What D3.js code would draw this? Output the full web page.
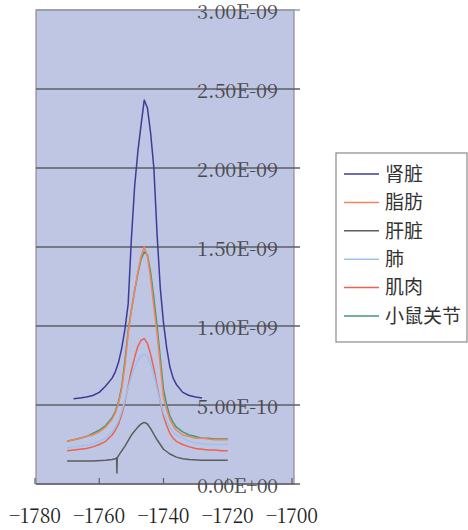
<!DOCTYPE html>
<html>
<head>
<meta charset="utf-8">
<script src="https://cdn.jsdelivr.net/npm/d3@7"></script>
<style>
  body { margin: 0; background: #fff; }
  svg { display: block; }
</style>
</head>
<body>
<svg width="468" height="530"></svg>
<script>
// values are in units of 1e-9
const xs = [-1770, -1768, -1766, -1764, -1762, -1760, -1758, -1756, -1755, -1754, -1753, -1752,
  -1751, -1750, -1749, -1748, -1747, -1746, -1745, -1744, -1743, -1742, -1741, -1740,
  -1739, -1738, -1737, -1736, -1734, -1732, -1730, -1728, -1726, -1724, -1722, -1720];

const kidney = [null, 0.54, 0.545, 0.55, 0.56, 0.58, 0.62, 0.67, 0.71, 0.77, 0.86, 0.98,
  1.14, 1.55, 1.88, 2.10, 2.27, 2.43, 2.38, 2.22, 2.00, 1.58, 1.24, 1.02,
  0.86, 0.74, 0.67, 0.63, 0.58, 0.56, 0.55, 0.545, null, null, null, null];
const fat = [0.27, 0.28, 0.29, 0.30, 0.31, 0.33, 0.36, 0.41, 0.45, 0.51, 0.60, 0.75,
  0.95, 1.10, 1.22, 1.34, 1.44, 1.50, 1.44, 1.30, 1.12, 0.95, 0.75, 0.55,
  0.47, 0.41, 0.37, 0.34, 0.31, 0.30, 0.29, 0.29, 0.285, 0.28, 0.28, 0.28];
const lung = [0.23, 0.235, 0.24, 0.245, 0.255, 0.27, 0.29, 0.33, 0.36, 0.40, 0.46, 0.53,
  0.61, 0.68, 0.74, 0.78, 0.81, 0.82, 0.81, 0.76, 0.69, 0.60, 0.52, 0.45,
  0.40, 0.36, 0.33, 0.31, 0.29, 0.27, 0.26, 0.255, 0.25, 0.25, 0.25, 0.25];
const muscle = [0.21, 0.215, 0.22, 0.225, 0.235, 0.25, 0.27, 0.31, 0.34, 0.38, 0.44, 0.52,
  0.62, 0.72, 0.80, 0.87, 0.91, 0.92, 0.89, 0.82, 0.73, 0.62, 0.52, 0.43,
  0.37, 0.32, 0.29, 0.27, 0.25, 0.235, 0.225, 0.22, 0.215, 0.215, 0.21, 0.21];
const joint = [0.27, 0.28, 0.29, 0.30, 0.32, 0.34, 0.37, 0.42, 0.46, 0.52, 0.62, 0.78,
  0.97, 1.10, 1.22, 1.33, 1.42, 1.47, 1.45, 1.34, 1.18, 1.00, 0.80, 0.60,
  0.50, 0.43, 0.39, 0.36, 0.33, 0.31, 0.30, 0.29, 0.29, 0.285, 0.285, 0.285];

// liver has its own sampling because of the dip near -1754.5
const liverX = [-1770, -1766, -1762, -1758, -1756, -1755, -1754.6, -1754.5, -1754.4, -1754, -1752, -1750,
  -1748, -1747, -1746, -1745, -1744, -1742, -1740, -1738, -1736, -1734, -1732, -1728, -1724, -1720];
const liver = [0.145, 0.145, 0.145, 0.15, 0.155, 0.16, 0.165, 0.07, 0.165, 0.18, 0.24, 0.31,
  0.36, 0.38, 0.39, 0.38, 0.35, 0.28, 0.22, 0.19, 0.17, 0.16, 0.155, 0.15, 0.15, 0.15];

const names = ['肾脏', '脂肪', '肝脏', '肺', '肌肉', '小鼠关节'];
const colors = ['#3c3c96', '#f2835c', '#5c5c5c', '#9cc2ee', '#f0604c', '#3f9c72'];
const yTicks = [0, 0.5e-9, 1e-9, 1.5e-9, 2e-9, 2.5e-9, 3e-9];
const yTickLabels = ['0.00E+00', '5.00E-10', '1.00E-09', '1.50E-09', '2.00E-09', '2.50E-09', '3.00E-09'];
const xTicks = [-1780, -1760, -1740, -1720, -1700];

const svg = d3.select('svg');
const plot = { left: 36, right: 294, top: 10, bottom: 484 };
const serif = "'Noto Serif CJK SC', 'Liberation Serif', serif";

const x = d3.scaleLinear().domain([-1780, -1700]).range([35, 292]);
const y = d3.scaleLinear().domain([0, 3e-9]).range([plot.bottom, plot.top]);

// plot background
svg.append('rect')
  .attr('x', plot.left).attr('y', plot.top)
  .attr('width', plot.right - plot.left).attr('height', plot.bottom - plot.top)
  .attr('fill', '#bec6e4')
  .attr('stroke', '#8c8c9a').attr('stroke-width', 1.2);

// gridlines, running a little past the right border
svg.append('g').selectAll('line')
  .data(yTicks)
  .join('line')
  .attr('x1', plot.left).attr('x2', plot.right + 6)
  .attr('y1', d => y(d)).attr('y2', d => y(d))
  .attr('stroke', d => d === 3e-9 ? '#9a9aa6' : '#5e5e66')
  .attr('stroke-width', 1.4);

// x tick marks inside the bottom edge
svg.append('g').selectAll('line')
  .data(xTicks)
  .join('line')
  .attr('x1', d => x(d)).attr('x2', d => x(d))
  .attr('y1', plot.bottom).attr('y2', plot.bottom - 6)
  .attr('stroke', '#5e5e66').attr('stroke-width', 1.2);

// series
const line = d3.line()
  .defined(d => d[1] != null)
  .x(d => x(d[0]))
  .y(d => y(d[1] * 1e-9));

const series = [
  { vals: kidney, xv: xs, c: colors[0] },
  { vals: liver, xv: liverX, c: colors[2] },
  { vals: muscle, xv: xs, c: colors[4] },
  { vals: lung, xv: xs, c: colors[3] },
  { vals: joint, xv: xs, c: colors[5] },
  { vals: fat, xv: xs, c: colors[1] }
];
series.forEach(s => {
  svg.append('path')
    .datum(s.xv.map((v, i) => [v, s.vals[i]]))
    .attr('d', line)
    .attr('fill', 'none')
    .attr('stroke', s.c)
    .attr('stroke-width', 1.5)
    .attr('stroke-linejoin', 'round');
});

// y tick labels sit inside the plot, on top of the gridlines
svg.append('g').selectAll('text')
  .data(yTicks)
  .join('text')
  .attr('x', 278)
  .attr('y', d => y(d) + 9)
  .attr('text-anchor', 'end')
  .style('font-family', serif)
  .style('font-size', '20px')
  .attr('fill', '#4a4a4a')
  .attr('textLength', 81)
  .attr('lengthAdjust', 'spacing')
  .text((d, i) => yTickLabels[i]);

// x tick labels
svg.append('g').selectAll('text')
  .data(xTicks)
  .join('text')
  .attr('x', d => x(d))
  .attr('y', 523)
  .attr('text-anchor', 'middle')
  .style('font-family', serif)
  .style('font-size', '20px')
  .attr('fill', '#222')
  .attr('textLength', 52)
  .attr('lengthAdjust', 'spacingAndGlyphs')
  .text(d => d3.format('d')(d));

// legend
const legend = svg.append('g');
legend.append('rect')
  .attr('x', 336).attr('y', 153)
  .attr('width', 131).attr('height', 189)
  .attr('fill', '#fff')
  .attr('stroke', '#8a8a8a').attr('stroke-width', 1.2);

const rows = legend.selectAll('g.row')
  .data(names)
  .join('g')
  .attr('class', 'row')
  .attr('transform', (d, i) => `translate(0,${174 + i * 28.4})`);
rows.append('line')
  .attr('x1', 344).attr('x2', 379)
  .attr('stroke', (d, i) => colors[i])
  .attr('stroke-width', 1.5);
rows.append('text')
  .attr('x', 385)
  .attr('dy', '0.36em')
  .style('font-family', "'Noto Sans CJK SC', sans-serif")
  .style('font-size', '19px')
  .attr('fill', '#333')
  .text(d => d);
</script>
</body>
</html>
